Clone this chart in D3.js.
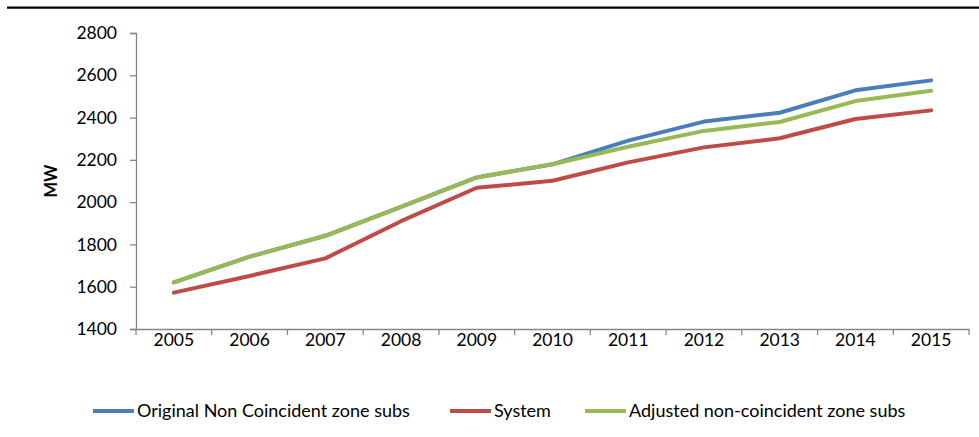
<!DOCTYPE html>
<html>
<head>
<meta charset="utf-8">
<script src="https://cdn.jsdelivr.net/npm/d3@7"></script>
<style>
  html, body { margin: 0; padding: 0; background: #fff; }
  svg { display: block; font-family: Lato, "Open Sans", sans-serif; }
</style>
</head>
<body>
<svg id="chart" width="979" height="437"></svg>
<script>
// Peak load by year, MW
const years = ["2005","2006","2007","2008","2009","2010","2011","2012","2013","2014","2015"];
const originalNonCoincident = [1621, 1742, 1841, 1978, 2117, 2179, 2291, 2381, 2423, 2529, 2576];
const systemLoad            = [1572, 1651, 1734, 1910, 2068, 2101, 2188, 2259, 2302, 2393, 2434];
const adjustedNonCoincident = [1621, 1742, 1841, 1978, 2117, 2179, 2262, 2337, 2379, 2478, 2527];
const yTicks = [1400, 1600, 1800, 2000, 2200, 2400, 2600, 2800];

const seriesNames  = ["Original Non Coincident zone subs", "System", "Adjusted non-coincident zone subs"];
const seriesColors = ["#4A7EBB", "#BE4B48", "#98B954"];
const seriesValues = [originalNonCoincident, systemLoad, adjustedNonCoincident];

const svg = d3.select("#chart");
const plotLeft = 136, plotRight = 969, plotTop = 33, plotBottom = 329;
const axisColor = "#868686";
const labelSize = 17.5;

// header rule and the clipped title above it
svg.append("text")
  .attr("x", 685).attr("y", -3)
  .attr("font-size", 15).attr("font-weight", "bold")
  .attr("fill", "#1F2A9A")
  .text("y");
svg.append("line")
  .attr("x1", 7).attr("x2", 979).attr("y1", 7.7).attr("y2", 7.7)
  .attr("stroke", "#000").attr("stroke-width", 2.2);

const x = d3.scaleBand().domain(years).range([plotLeft, plotRight]).padding(0);
const y = d3.scaleLinear().domain([1400, 2800]).range([plotBottom, plotTop]);

// y axis
const yAxis = svg.append("g")
  .attr("transform", `translate(${plotLeft},0)`)
  .call(d3.axisLeft(y).tickValues(yTicks).tickSize(6).tickPadding(13).tickFormat(d3.format("d")));
yAxis.select(".domain").attr("stroke", axisColor).attr("stroke-width", 1.3);
yAxis.selectAll(".tick line").attr("stroke", axisColor).attr("stroke-width", 1.3);
yAxis.selectAll(".tick text").attr("font-size", labelSize).attr("fill", "#000")
  .attr("font-family", "Lato, sans-serif");

// x axis: labels centred in bands, ticks on band edges
const xAxis = svg.append("g")
  .attr("transform", `translate(0,${plotBottom})`)
  .call(d3.axisBottom(x).tickSize(0).tickPadding(5));
xAxis.select(".domain").attr("stroke", axisColor).attr("stroke-width", 1.3);
xAxis.selectAll(".tick text").attr("font-size", labelSize).attr("fill", "#000")
  .attr("font-family", "Lato, sans-serif");
const edges = years.map(d => x(d)).concat([x(years[years.length - 1]) + x.bandwidth()]);
svg.append("g").selectAll("line").data(edges).join("line")
  .attr("x1", d => d).attr("x2", d => d)
  .attr("y1", plotBottom).attr("y2", plotBottom + 6)
  .attr("stroke", axisColor).attr("stroke-width", 1.3);

// axis title
svg.append("text")
  .attr("transform", `translate(57,${(plotTop + plotBottom) / 2}) rotate(-90)`)
  .attr("text-anchor", "middle")
  .attr("font-size", 16.5).attr("font-weight", "bold")
  .text("MW");

// series lines
const line = d3.line()
  .x((d, i) => x(years[i]) + x.bandwidth() / 2)
  .y(d => y(d));
svg.append("g").selectAll("path").data(seriesValues).join("path")
  .attr("d", d => line(d))
  .attr("fill", "none")
  .attr("stroke", (d, i) => seriesColors[i])
  .attr("stroke-width", 4)
  .attr("stroke-linejoin", "round")
  .attr("stroke-linecap", "round");

// legend
const legendX = [93, 450, 585];
const legendY = 411;
const leg = svg.append("g").selectAll("g").data(seriesNames).join("g")
  .attr("transform", (d, i) => `translate(${legendX[i]},${legendY})`);
leg.append("line")
  .attr("x1", 0).attr("x2", 41).attr("y1", 0).attr("y2", 0)
  .attr("stroke", (d, i) => seriesColors[i]).attr("stroke-width", 4);
leg.append("text")
  .attr("x", 44).attr("y", 0).attr("dy", "0.35em")
  .attr("font-size", 18).attr("fill", "#000")
  .text(d => d);
</script>
</body>
</html>
